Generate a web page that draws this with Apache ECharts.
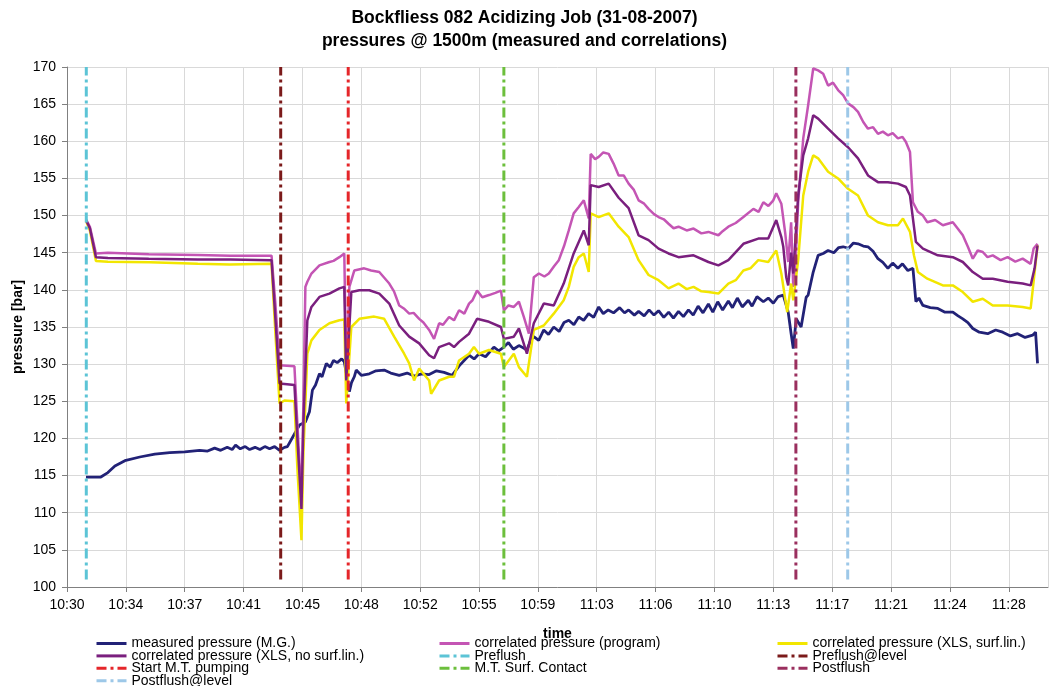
<!DOCTYPE html>
<html>
<head>
<meta charset="utf-8">
<script src="https://cdn.jsdelivr.net/npm/echarts@6/dist/echarts.min.js"></script>
<style>
html,body{margin:0;padding:0;background:#fff;}
#chart{width:1049px;height:686px;}
</style>
</head>
<body>
<div id="chart"></div>
<script>
// time values are minutes after 10:30
const TITLE_LINES = ['Bockfliess 082 Acidizing Job (31-08-2007)', 'pressures @ 1500m (measured and correlations)'];
const SERIES_NAMES = [
  'measured pressure (M.G.)',
  'correlated pressure (program)',
  'correlated pressure (XLS, surf.lin.)',
  'correlated pressure (XLS, no surf.lin.)'
];
const measured = [[1.16,114.8],[1.6,114.8],[2.07,114.8],[2.5,115.4],[2.93,116.3],[3.54,117.0],[4.45,117.5],[5.37,117.9],[6.28,118.1],[7.2,118.2],[8.11,118.4],[8.6,118.3],[9.03,118.7],[9.4,118.4],[9.8,118.8],[10.1,118.5],[10.31,119.1],[10.6,118.6],[10.9,118.9],[11.17,118.5],[11.5,118.8],[11.8,118.5],[12.1,118.9],[12.39,118.6],[12.7,118.9],[13.0,118.4],[13.3,118.8],[13.48,118.9],[13.91,120.6],[14.22,121.8],[14.58,122.2],[14.83,123.6],[15.01,126.5],[15.2,127.2],[15.44,128.7],[15.6,128.3],[15.86,130.1],[16.1,129.6],[16.3,130.5],[16.53,130.2],[16.8,130.7],[16.96,130.3],[17.14,128.1],[17.27,126.3],[17.4,127.5],[17.57,128.3],[17.69,129.2],[18.0,128.5],[18.49,128.7],[18.9,129.1],[19.4,129.2],[19.8,128.8],[20.32,128.5],[20.8,128.8],[21.23,128.4],[21.7,128.7],[22.15,128.6],[22.6,129.1],[23.06,128.9],[23.55,128.5],[24.0,129.8],[24.59,131.2],[24.9,130.7],[25.2,131.4],[25.6,131.0],[26.11,132.3],[26.4,131.8],[26.72,132.3],[27.0,132.9],[27.3,132.0],[27.64,132.5],[27.9,132.2],[28.13,131.9],[28.35,133.2],[28.55,133.7],[28.85,133.2],[29.16,134.6],[29.45,134.0],[29.77,135.0],[30.1,134.4],[30.4,135.6],[30.69,135.9],[31.0,135.3],[31.3,136.35],[31.6,135.9],[31.9,136.8],[32.21,136.3],[32.52,137.7],[32.8,136.8],[33.1,137.3],[33.43,136.9],[33.8,137.6],[34.1,136.9],[34.35,137.3],[34.7,136.6],[34.96,137.1],[35.3,136.5],[35.6,137.3],[35.9,136.6],[36.18,137.2],[36.5,136.3],[36.8,137.0],[37.09,136.2],[37.4,137.1],[37.7,136.4],[38.01,137.3],[38.3,136.6],[38.6,137.8],[38.9,136.9],[39.23,138.1],[39.5,137.0],[39.8,138.4],[40.1,137.3],[40.45,138.5],[40.7,137.6],[41.0,138.9],[41.3,137.7],[41.67,138.6],[41.9,137.8],[42.2,139.1],[42.59,138.4],[42.89,138.9],[43.2,138.2],[43.5,139.1],[43.81,139.3],[44.11,137.0],[44.29,134.1],[44.42,132.1],[44.6,136.1],[44.72,136.3],[44.9,135.0],[45.21,139.0],[45.33,139.3],[45.64,142.4],[45.94,144.65],[46.25,144.9],[46.55,145.3],[46.9,145.0],[47.2,145.7],[47.47,145.8],[47.8,145.6],[48.1,146.3],[48.38,146.2],[48.7,145.9],[48.99,145.8],[49.3,145.2],[49.6,144.2],[49.9,143.7],[50.21,142.9],[50.5,143.6],[50.82,142.9],[51.1,143.5],[51.43,142.6],[51.74,142.9],[51.92,138.4],[52.1,138.9],[52.35,137.9],[52.8,137.6],[53.26,137.5],[53.7,137.0],[54.18,137.0],[54.5,136.5],[54.79,136.1],[55.1,135.6],[55.4,134.8],[55.8,134.3],[56.31,134.1],[56.8,134.6],[57.23,134.3],[57.7,133.8],[58.14,134.1],[58.6,133.6],[59.06,133.9],[59.24,134.3],[59.36,130.1]];
const program = [[1.16,149.5],[1.4,148.5],[1.77,144.9],[2.5,145.0],[5.0,144.8],[8.0,144.7],[10.0,144.6],[12.51,144.6],[12.75,138.0],[13.0,129.85],[13.91,129.7],[14.09,122.0],[14.34,111.5],[14.46,125.0],[14.58,140.4],[14.7,141.1],[14.95,142.2],[15.44,143.3],[16.05,143.75],[16.3,143.9],[16.66,144.4],[16.96,144.9],[17.08,128.3],[17.27,140.4],[17.57,142.6],[18.18,142.9],[18.6,142.6],[19.1,142.4],[19.71,140.85],[20.0,139.8],[20.32,137.9],[20.6,137.5],[20.93,136.8],[21.2,136.9],[21.54,136.1],[21.8,135.6],[22.15,134.6],[22.45,133.4],[22.76,135.5],[23.0,135.3],[23.37,136.35],[23.67,135.9],[23.98,137.25],[24.3,136.8],[24.59,138.15],[24.8,138.6],[25.08,139.9],[25.4,139.0],[25.81,139.3],[26.2,139.6],[26.54,139.9],[26.72,137.25],[27.0,137.9],[27.33,137.7],[27.64,138.4],[27.94,136.35],[28.25,134.1],[28.55,141.7],[28.86,142.2],[29.2,141.8],[29.47,142.2],[29.8,143.2],[30.08,144.0],[30.4,145.9],[30.69,148.0],[30.99,150.3],[31.3,151.15],[31.61,152.05],[31.91,149.6],[32.03,158.3],[32.3,157.6],[32.52,157.9],[32.8,158.5],[33.13,158.3],[33.43,157.0],[33.74,155.4],[34.05,155.4],[34.35,154.3],[34.66,153.5],[34.96,152.05],[35.3,151.6],[35.57,150.9],[35.9,150.2],[36.18,149.8],[36.5,149.5],[36.79,148.9],[37.1,148.3],[37.4,148.5],[37.9,148.0],[38.32,148.25],[38.8,147.6],[39.23,147.8],[39.84,147.35],[40.1,147.9],[40.45,148.5],[40.9,149.0],[41.37,149.8],[41.98,150.9],[42.3,150.5],[42.59,151.8],[42.9,151.3],[43.2,152.05],[43.38,153.0],[43.69,151.6],[43.93,147.6],[44.11,143.75],[44.29,149.1],[44.42,140.4],[44.54,142.9],[44.72,151.8],[45.03,160.4],[45.33,164.85],[45.64,169.8],[45.94,169.55],[46.25,169.1],[46.55,167.5],[46.85,167.9],[47.16,166.9],[47.47,166.2],[47.77,165.1],[48.1,164.6],[48.38,163.95],[48.7,162.6],[48.99,161.7],[49.3,161.9],[49.6,161.0],[49.9,161.3],[50.21,160.8],[50.5,161.1],[50.82,160.4],[51.1,160.6],[51.31,159.9],[51.56,158.55],[51.74,151.8],[52.04,150.5],[52.35,150.0],[52.62,149.1],[53.1,149.4],[53.57,148.7],[54.18,149.1],[54.5,148.2],[54.79,147.35],[55.1,145.8],[55.4,144.2],[55.7,145.3],[56.01,145.1],[56.3,144.4],[56.62,144.65],[57.1,144.0],[57.53,144.4],[58.0,143.8],[58.45,144.2],[58.94,143.5],[59.12,145.55],[59.36,146.2]];
const xlsSurf = [[1.16,149.3],[1.4,148.0],[1.77,143.9],[2.5,143.8],[5.06,143.7],[8.0,143.5],[9.95,143.4],[12.51,143.5],[12.75,134.0],[13.0,124.7],[13.3,125.1],[13.91,125.0],[14.09,116.0],[14.34,106.3],[14.46,118.0],[14.7,131.4],[14.95,133.2],[15.44,134.6],[16.05,135.5],[16.66,135.9],[16.96,136.0],[17.08,124.7],[17.39,135.0],[17.88,136.1],[18.79,136.4],[19.4,136.1],[20.01,133.7],[20.62,131.4],[20.93,130.1],[21.23,127.8],[21.54,129.4],[22.15,127.8],[22.27,126.0],[22.76,127.8],[23.37,128.3],[23.67,128.3],[23.98,130.5],[24.59,131.4],[24.89,132.3],[25.2,131.4],[25.81,131.9],[26.54,131.4],[26.72,129.6],[27.33,131.4],[27.64,129.6],[28.13,128.3],[28.55,134.6],[29.16,135.2],[29.77,136.8],[30.38,138.6],[30.69,140.4],[30.99,143.1],[31.3,144.4],[31.61,144.9],[31.91,142.4],[32.03,150.3],[32.52,149.8],[33.13,150.3],[33.74,148.5],[34.35,147.1],[34.96,144.0],[35.57,142.0],[36.18,141.3],[36.79,140.2],[37.4,140.85],[37.9,140.1],[38.32,140.4],[38.8,139.8],[39.23,139.7],[39.84,139.5],[40.45,140.85],[40.9,141.3],[41.37,142.6],[41.8,142.9],[42.28,144.0],[42.89,143.75],[43.38,145.3],[43.69,142.2],[44.05,137.0],[44.29,140.85],[44.42,138.6],[44.72,144.0],[45.03,152.7],[45.33,155.9],[45.64,158.1],[45.94,157.7],[46.55,155.9],[47.16,155.0],[47.77,153.6],[48.38,152.7],[48.99,150.0],[49.6,149.1],[50.21,148.7],[50.82,148.7],[51.13,149.6],[51.56,147.8],[51.8,144.65],[52.04,142.4],[52.62,141.5],[53.57,140.6],[54.18,140.6],[54.79,139.7],[55.4,138.4],[56.01,138.8],[56.62,137.9],[57.53,137.9],[58.45,137.7],[58.94,137.5],[59.12,141.1],[59.36,146.0]];
const xlsNoSurf = [[1.16,149.4],[1.4,148.3],[1.77,144.4],[2.5,144.3],[5.0,144.2],[8.0,144.1],[10.0,144.1],[12.51,144.0],[12.75,136.0],[13.0,127.4],[13.91,127.2],[14.09,120.0],[14.34,110.5],[14.46,122.0],[14.7,135.9],[14.95,137.7],[15.44,139.05],[16.05,139.5],[16.66,140.2],[16.96,140.4],[17.08,127.8],[17.39,139.7],[17.88,139.95],[18.49,139.95],[19.1,139.5],[19.71,138.15],[20.32,135.2],[20.93,133.7],[21.54,132.8],[22.15,131.2],[22.45,130.8],[22.76,132.3],[23.37,132.8],[23.67,132.3],[23.98,133.0],[24.59,134.1],[25.08,136.1],[25.81,135.7],[26.54,135.0],[26.72,133.4],[27.33,133.7],[27.64,134.8],[28.13,131.4],[28.55,135.5],[29.16,138.15],[29.77,137.9],[30.38,140.85],[30.99,144.9],[31.61,148.0],[31.91,146.0],[32.03,154.1],[32.52,153.85],[33.13,154.3],[33.74,152.4],[34.35,151.0],[34.96,147.35],[35.57,146.7],[36.18,145.55],[36.79,144.9],[37.4,144.4],[38.32,144.65],[39.23,143.75],[39.84,143.3],[40.45,144.0],[41.37,146.2],[42.28,146.9],[42.89,146.9],[43.38,149.4],[43.69,147.1],[43.81,145.8],[43.99,141.7],[44.11,140.6],[44.29,145.0],[44.42,142.2],[44.72,152.7],[45.03,158.1],[45.33,160.4],[45.64,163.5],[45.94,163.05],[46.55,161.7],[47.16,160.4],[47.77,159.2],[48.38,157.7],[48.99,155.4],[49.6,154.5],[50.21,154.5],[50.82,154.3],[51.31,153.85],[51.56,152.7],[51.92,146.45],[52.35,145.55],[53.26,144.65],[54.18,144.4],[54.79,143.75],[55.4,142.4],[56.01,141.5],[56.62,141.5],[57.53,141.1],[58.45,140.85],[58.94,140.6],[59.18,142.9],[59.36,146.0]];
const EVENT_NAMES = ['Preflush','Preflush@level','Start M.T. pumping','M.T. Surf. Contact','Postflush','Postflush@level'];
const EVENT_TIMES = [1.18, 13.07, 17.2, 26.72, 44.58, 47.75];
const EVENT_RANGE = [101, 170];
const X_TICK_STEP = 3.6;
const LABEL_OFFSET_MIN = 0.2;

const DATA_COLORS = ['#222277','#C455B4','#F2E600','#7A1F7E'];
const EVENT_COLORS = ['#5CC4D6','#7B1A1A','#E5262A','#6CBF3C','#9A2F5E','#9DC8E8'];
const FONT = 'Liberation Sans, Arial, sans-serif';

const dataSeries = [measured, program, xlsSurf, xlsNoSurf].map((d, i) => ({
  name: SERIES_NAMES[i], type: 'line', data: d, showSymbol: false, symbol: 'none',
  lineStyle: {color: DATA_COLORS[i], width: i === 0 ? 2.8 : 2.5}, itemStyle: {color: DATA_COLORS[i]},
  animation: false, z: 2 + i
}));
const eventSeries = EVENT_NAMES.map((n, i) => ({
  name: n, type: 'line', showSymbol: false, symbol: 'none',
  data: [[EVENT_TIMES[i], EVENT_RANGE[0]], [EVENT_TIMES[i], EVENT_RANGE[1]]],
  lineStyle: {color: EVENT_COLORS[i], width: 3, type: [10, 4, 3, 4]},
  itemStyle: {color: EVENT_COLORS[i]}, animation: false, z: 10
}));

function fmtTime(v) {
  const t = Math.round(30 + v + LABEL_OFFSET_MIN);
  const h = 10 + Math.floor(t / 60), m = t % 60;
  return h + ':' + (m < 10 ? '0' : '') + m;
}
const legendCommon = {
  orient: 'vertical', itemWidth: 30, itemHeight: 10, itemGap: -1.6, padding: 0, height: 90,
  itemStyle: {opacity: 0},
  lineStyle: {width: 3},
  textStyle: {fontFamily: FONT, fontSize: 14, color: '#000', lineHeight: 12}
};
const chart = echarts.init(document.getElementById('chart'));
chart.setOption({
  backgroundColor: '#fff',
  animation: false,
  title: {
    text: TITLE_LINES.join('\n'), left: 'center', top: 2,
    textStyle: {fontFamily: FONT, fontSize: 17.5, fontWeight: 'bold', color: '#000', lineHeight: 23}
  },
  grid: {left: 67, right: 1, top: 67, bottom: 99},
  legend: [
    Object.assign({left: 95, top: 636.5, data: [SERIES_NAMES[0], SERIES_NAMES[3], EVENT_NAMES[2], EVENT_NAMES[5]]}, legendCommon),
    Object.assign({left: 438, top: 636.5, data: [SERIES_NAMES[1], EVENT_NAMES[0], EVENT_NAMES[3]]}, legendCommon),
    Object.assign({left: 776, top: 636.5, data: [SERIES_NAMES[2], EVENT_NAMES[1], EVENT_NAMES[4]]}, legendCommon)
  ],
  xAxis: {
    type: 'value', min: 0, max: 60, interval: X_TICK_STEP,
    name: 'time', nameLocation: 'middle', nameGap: 40, nameMoveOverlap: false,
    nameTextStyle: {fontFamily: FONT, fontSize: 14, fontWeight: 'bold', color: '#000'},
    axisLine: {show: true, lineStyle: {color: '#808080', width: 1}},
    axisTick: {show: true, length: 5, lineStyle: {color: '#808080'}},
    axisLabel: {fontFamily: FONT, fontSize: 14, color: '#000', margin: 11, showMaxLabel: false, formatter: fmtTime},
    splitLine: {show: true, lineStyle: {color: '#D9D9D9', width: 1}}
  },
  yAxis: {
    type: 'value', min: 100, max: 170, interval: 5,
    name: 'pressure [bar]', nameLocation: 'middle', nameGap: 42, nameRotate: 90, nameMoveOverlap: false,
    nameTextStyle: {fontFamily: FONT, fontSize: 14, fontWeight: 'bold', color: '#000'},
    axisLine: {show: true, lineStyle: {color: '#808080', width: 1}},
    axisTick: {show: true, length: 5, lineStyle: {color: '#808080'}},
    axisLabel: {fontFamily: FONT, fontSize: 14, color: '#000', margin: 11},
    splitLine: {show: true, lineStyle: {color: '#D9D9D9', width: 1}}
  },
  series: dataSeries.concat(eventSeries)
});
</script>
</body>
</html>
